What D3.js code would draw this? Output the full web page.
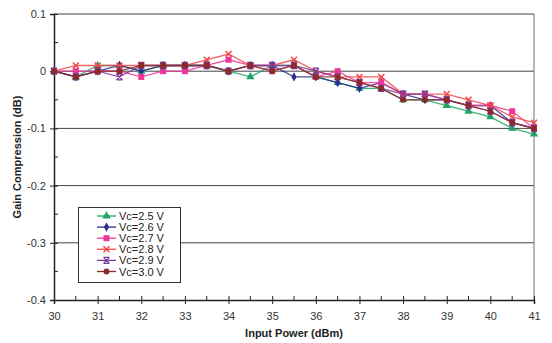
<!DOCTYPE html>
<html><head><meta charset="utf-8">
<script src="https://cdn.jsdelivr.net/npm/d3@7"></script>
<style>body{margin:0;background:#fff}svg{display:block;font-family:Arial,"Liberation Sans",sans-serif}</style>
</head><body><svg id="c" width="552" height="343"></svg>
<script>
const inputPower = [30,30.5,31,31.5,32,32.5,33,33.5,34,34.5,35,35.5,36,36.5,37,37.5,38,38.5,39,39.5,40,40.5,41];
const seriesNames = ["Vc=2.5 V","Vc=2.6 V","Vc=2.7 V","Vc=2.8 V","Vc=2.9 V","Vc=3.0 V"];
const vc25 = [0,-0.01,0.01,0.01,0,0.01,0.01,0.01,0,-0.01,0.01,0.01,-0.01,-0.02,-0.03,-0.03,-0.05,-0.05,-0.06,-0.07,-0.08,-0.10,-0.11];
const vc26 = [0,-0.01,0,0.01,0,0.01,0.01,0.01,0,0.01,0.01,-0.01,-0.01,-0.02,-0.03,-0.02,-0.04,-0.05,-0.05,-0.06,-0.06,-0.09,-0.10];
const vc27 = [0,0,0,0,-0.01,0,0,0.01,0.02,0.01,0,0.01,-0.01,0,-0.02,-0.02,-0.04,-0.04,-0.05,-0.06,-0.06,-0.07,-0.10];
const vc28 = [0,0.01,0.01,0.01,0.01,0.01,0.01,0.02,0.03,0.01,0.01,0.02,0,-0.01,-0.01,-0.01,-0.04,-0.04,-0.04,-0.05,-0.06,-0.08,-0.09];
const vc29 = [0,-0.01,0,-0.01,0.01,0.01,0.01,0.01,0,0.01,0.01,0.01,0,-0.01,-0.02,-0.03,-0.04,-0.04,-0.05,-0.06,-0.07,-0.09,-0.10];
const vc30 = [0,-0.01,0,0,0.01,0.01,0.01,0.01,0,0.01,0,0.01,-0.01,-0.01,-0.02,-0.03,-0.05,-0.05,-0.05,-0.06,-0.07,-0.09,-0.10];
const yTicks = [0.1,0,-0.1,-0.2,-0.3,-0.4];
const yTickLabels = ["0.1","0","-0.1","-0.2","-0.3","-0.4"];
const xTicks = [30,31,32,33,34,35,36,37,38,39,40,41];

const seriesValues = [vc25,vc26,vc27,vc28,vc29,vc30];
const colors = ["#1fa463","#2b2e8c","#f0359a","#f04848","#7b3b98","#8c2a2a"];
const markers = ["triangle","diamond","square","x","star","circle"];

const svg = d3.select("#c");
const L=54, R=534, T=14, B=300;
const x = d3.scaleLinear().domain([30,41]).range([L,R]);
const y = d3.scaleLinear().domain([-0.4,0.1]).range([B,T]);

// gridlines
svg.append("g").selectAll("line").data(yTicks.filter(d=>d>-0.4)).join("line")
  .attr("x1",L).attr("x2",R).attr("y1",d=>y(d)).attr("y2",d=>y(d))
  .attr("stroke","#444").attr("stroke-width",1);
// right border
svg.append("line").attr("x1",R).attr("x2",R).attr("y1",T).attr("y2",B).attr("stroke","#888").attr("stroke-width",1.2);

// y axis
const yAxis = svg.append("g").attr("transform",`translate(${L},0)`)
  .call(d3.axisLeft(y).tickValues(yTicks).tickFormat((d,i)=>yTickLabels[i]).tickSize(4).tickPadding(4));
yAxis.select(".domain").attr("stroke","#222").attr("stroke-width",1.5);
yAxis.selectAll(".tick line").attr("x2",-4).attr("x1",4).attr("stroke","#222");
yAxis.selectAll("text").attr("font-size",11).attr("fill","#333");
svg.append("g").selectAll("line").data(d3.range(-0.35,0.1,0.1)).join("line")
  .attr("x1",L).attr("x2",L+4).attr("y1",d=>y(d)).attr("y2",d=>y(d)).attr("stroke","#222");

// x axis
const xAxis = svg.append("g").attr("transform",`translate(0,${B})`)
  .call(d3.axisBottom(x).tickValues(xTicks).tickFormat(d3.format("d")).tickSize(4).tickPadding(8));
xAxis.select(".domain").attr("stroke","#222").attr("stroke-width",1.5);
xAxis.selectAll(".tick line").attr("y1",-4).attr("y2",4).attr("stroke","#222");
xAxis.selectAll("text").attr("font-size",11).attr("fill","#333");
svg.append("g").selectAll("line").data(d3.range(30.5,41,1)).join("line")
  .attr("x1",d=>x(d)).attr("x2",d=>x(d)).attr("y1",B).attr("y2",B-4).attr("stroke","#222");

// titles
svg.append("text").attr("x",294).attr("y",337).attr("text-anchor","middle")
  .attr("font-size",11).attr("font-weight","bold").attr("fill","#222").text("Input Power (dBm)");
svg.append("text").attr("transform","translate(21,157) rotate(-90)").attr("text-anchor","middle")
  .attr("font-size",11).attr("font-weight","bold").attr("fill","#222").text("Gain Compression (dB)");

function drawMarker(g, type, color){
  if(type==="triangle") g.append("path").attr("d",d3.symbol(d3.symbolTriangle,30)()).attr("fill",color);
  else if(type==="diamond") g.append("path").attr("d",d3.symbol(d3.symbolDiamond,24)()).attr("fill",color);
  else if(type==="square") g.append("rect").attr("x",-3).attr("y",-3).attr("width",6).attr("height",6).attr("fill",color);
  else if(type==="circle") g.append("circle").attr("r",3).attr("fill",color);
  else if(type==="x") g.append("path").attr("d","M-3,-3L3,3M-3,3L3,-3").attr("stroke",color).attr("stroke-width",1.5).attr("fill","none");
  else if(type==="star") g.append("path").attr("d","M-3,-3L3,3M-3,3L3,-3M-3,-3H3M-3,3H3").attr("stroke",color).attr("stroke-width",1.3).attr("fill","none");
}

const line = d3.line().x((d,i)=>x(inputPower[i])).y(d=>y(d));
seriesValues.forEach((vals,k)=>{
  const g = svg.append("g");
  g.append("path").datum(vals).attr("d",line).attr("fill","none").attr("stroke",colors[k]).attr("stroke-width",1.3).attr("stroke-opacity",0.85);
  vals.forEach((v,i)=>{
    const m = g.append("g").attr("transform",`translate(${x(inputPower[i])},${y(v)})`);
    drawMarker(m, markers[k], colors[k]);
  });
});

// legend
const lg = svg.append("g");
lg.append("rect").attr("x",78.5).attr("y",207.5).attr("width",102).attr("height",75).attr("fill","#fff").attr("stroke","#333").attr("stroke-width",1);
seriesNames.forEach((n,k)=>{
  const yy = 216 + k*11.1;
  lg.append("line").attr("x1",97).attr("x2",116).attr("y1",yy).attr("y2",yy).attr("stroke",colors[k]).attr("stroke-width",1.3);
  drawMarker(lg.append("g").attr("transform",`translate(106.5,${yy})`), markers[k], colors[k]);
  lg.append("text").attr("x",119).attr("y",yy+4).attr("font-size",11).attr("fill","#222").text(n);
});
</script></body></html>
